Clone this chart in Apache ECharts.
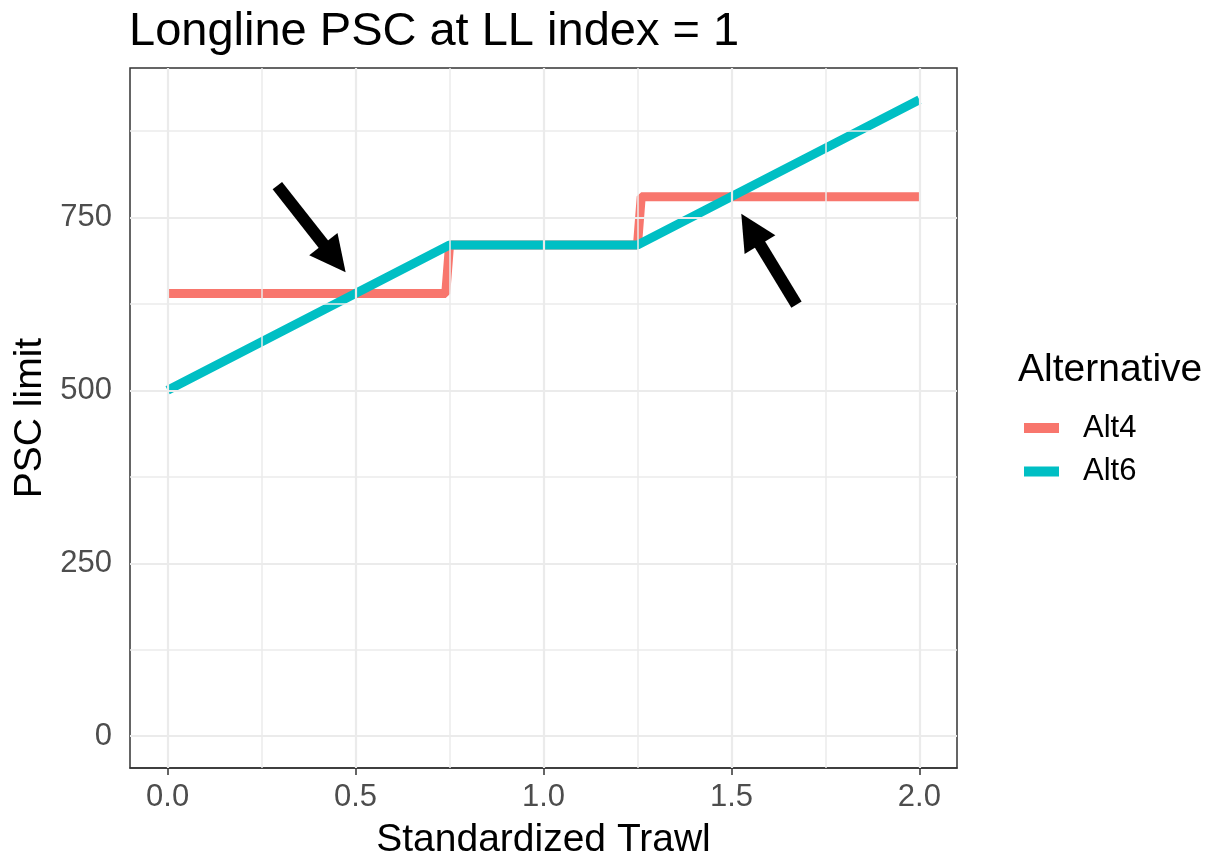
<!DOCTYPE html>
<html>
<head>
<meta charset="utf-8">
<script src="https://cdn.jsdelivr.net/npm/echarts@6/dist/echarts.min.js"></script>
<style>
  html, body { margin: 0; padding: 0; background: #fff; }
  #main { width: 1215px; height: 857px; }
</style>
</head>
<body>
<div id="main"></div>
<script>
// 数据
var alt4X = [0, 0.74, 0.75, 1.25, 1.26, 2];
var alt4Y = [640, 640, 710, 710, 780, 780];
var alt6X = [0, 0.75, 1.25, 2];
var alt6Y = [500, 710, 710, 920];

// 刻度
var xTicks = [0, 0.5, 1, 1.5, 2];
var xMinor = [0.25, 0.75, 1.25, 1.75];
var yTicks = [0, 250, 500, 750];
var yMinor = [125, 375, 625, 875];

// 箭头 [tailX, tailY, headX, headY]
var arrow1 = [0.292, 796, 0.444, 691];
var arrow2 = [1.673, 624, 1.551, 733];

function pairs(xs, ys) {
  var res = [];
  for (var i = 0; i < xs.length; i++) {
    res.push([xs[i], ys[i]]);
  }
  return res;
}

function gridLines(xs, ys) {
  var res = [];
  xs.forEach(function (v) { res.push({ xAxis: v }); });
  ys.forEach(function (v) { res.push({ yAxis: v }); });
  return res;
}

var font = 'Liberation Sans, Arial, sans-serif';
var myChart = echarts.init(document.getElementById('main'));

var option = {
  animation: false,
  backgroundColor: '#fff',
  textStyle: { fontFamily: font },
  title: [{
    text: 'Longline PSC at LL index = 1',
    left: 124,
    top: 4,
    textStyle: { fontSize: 47, fontWeight: 'normal', color: '#000', fontFamily: font }
  }, {
    text: 'Alternative',
    left: 1013,
    top: 346,
    textStyle: { fontSize: 39, fontWeight: 'normal', color: '#000', fontFamily: font }
  }],
  legend: {
    data: ['Alt4', 'Alt6'],
    orient: 'vertical',
    left: 1019,
    top: 406,
    icon: 'rect',
    itemWidth: 35,
    itemHeight: 10,
    itemGap: 9.5,
    itemStyle: { borderWidth: 0 },
    textStyle: { fontSize: 31, lineHeight: 34, color: '#000', padding: [0, 0, 0, 19], fontFamily: font }
  },
  grid: {
    left: 130,
    right: 258,
    top: 68,
    bottom: 89,
    outerBoundsMode: 'none',
    show: true,
    borderColor: '#333',
    borderWidth: 1.5,
    backgroundColor: '#fff'
  },
  xAxis: {
    type: 'value',
    min: -0.1,
    max: 2.1,
    name: 'Standardized Trawl',
    nameLocation: 'middle',
    nameGap: 53,
    nameTextStyle: { fontSize: 39, color: '#000', fontFamily: font },
    axisLine: { show: true, onZero: false, lineStyle: { color: '#333', width: 1.5 } },
    axisTick: { show: true, length: 7, customValues: xTicks, lineStyle: { color: '#333', width: 1.5 } },
    axisLabel: {
      customValues: xTicks,
      margin: 14,
      fontSize: 31,
      color: '#4d4d4d',
      fontFamily: font,
      formatter: function (v) { return v.toFixed(1); }
    },
    splitLine: { show: false }
  },
  yAxis: {
    type: 'value',
    min: -46,
    max: 966,
    name: 'PSC limit',
    nameLocation: 'middle',
    nameGap: 80,
    nameTextStyle: { fontSize: 39, color: '#000', fontFamily: font },
    axisLine: { show: true, lineStyle: { color: '#333', width: 1.5 } },
    axisTick: { show: true, length: 7, customValues: yTicks, lineStyle: { color: '#333', width: 1.5 } },
    axisLabel: { customValues: yTicks, margin: 18, fontSize: 31, color: '#4d4d4d', fontFamily: font },
    splitLine: { show: false }
  },
  series: [{
    // 网格线
    name: 'minor',
    type: 'line',
    data: [],
    silent: true,
    markLine: {
      silent: true,
      symbol: 'none',
      label: { show: false },
      emphasis: { disabled: true },
      lineStyle: { color: '#ebebeb', width: 1.5, type: 'solid' },
      data: gridLines(xMinor, yMinor)
    }
  }, {
    name: 'major',
    type: 'line',
    data: [],
    silent: true,
    markLine: {
      silent: true,
      symbol: 'none',
      label: { show: false },
      emphasis: { disabled: true },
      lineStyle: { color: '#ebebeb', width: 2.2, type: 'solid' },
      data: gridLines(xTicks, yTicks)
    }
  }, {
    name: 'Alt4',
    type: 'line',
    data: pairs(alt4X, alt4Y),
    showSymbol: false,
    symbol: 'none',
    color: '#F8766D',
    lineStyle: { color: '#F8766D', width: 9 }
  }, {
    name: 'Alt6',
    type: 'line',
    data: pairs(alt6X, alt6Y),
    showSymbol: false,
    symbol: 'none',
    color: '#00BFC4',
    lineStyle: { color: '#00BFC4', width: 9 }
  }, {
    // 箭头
    name: 'arrows',
    type: 'line',
    data: [],
    silent: true,
    z: 5,
    markLine: {
      silent: true,
      symbol: ['none', 'path://M18,0L36,36L0,36Z'],
      symbolSize: 36,
      label: { show: false },
      emphasis: { disabled: true },
      lineStyle: { color: '#000', width: 12, type: 'solid', cap: 'butt' },
      itemStyle: { color: '#000' },
      data: [
        [{ coord: [arrow1[0], arrow1[1]] }, { coord: [arrow1[2], arrow1[3]] }],
        [{ coord: [arrow2[0], arrow2[1]] }, { coord: [arrow2[2], arrow2[3]] }]
      ]
    }
  }]
};

myChart.setOption(option);
</script>
</body>
</html>
